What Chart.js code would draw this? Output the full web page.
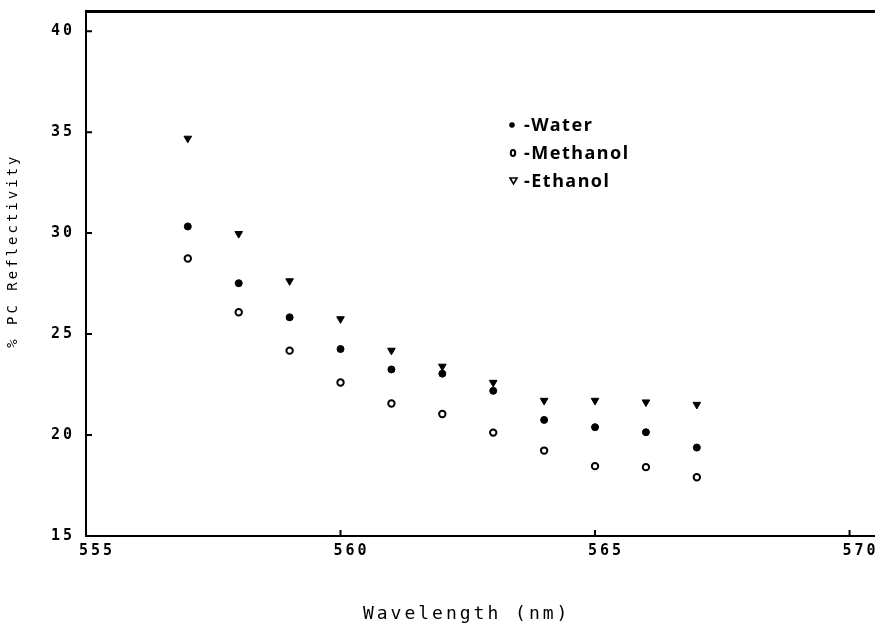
<!DOCTYPE html>
<html>
<head>
<meta charset="utf-8">
<script src="https://cdn.jsdelivr.net/npm/chart.js@4/dist/chart.umd.min.js"></script>
<style>
  body { margin: 0; background: #fff; }
  #wrap { width: 875px; height: 628px; position: relative; }
</style>
</head>
<body>
<div id="wrap"><canvas id="chart"></canvas></div>
<script>
// values
const wavelength = [557, 558, 559, 560, 561, 562, 563, 564, 565, 566, 567];
const water = [30.33, 27.52, 25.83, 24.26, 23.25, 23.04, 22.19, 20.75, 20.39, 20.14, 19.38];
const methanol = [28.74, 26.08, 24.18, 22.6, 21.56, 21.04, 20.12, 19.23, 18.46, 18.41, 17.91];
const ethanol = [34.69, 29.97, 27.63, 25.75, 24.19, 23.4, 22.6, 21.71, 21.71, 21.63, 21.51];
const xTicks = [555, 560, 565, 570];
const yTicks = [15, 20, 25, 30, 35, 40];
const legendNames = ["-Water", "-Methanol", "-Ethanol"];

const pts = (ys) => ys.map((y, i) => ({ x: wavelength[i], y }));
const keepTicks = (list) => (scale) => {
  scale.ticks = list.map((v) => ({ value: v }));
};

// inward tick marks + letter spacing for the plotter-ish look
const frame = {
  id: "frame",
  beforeDraw(chart) {
    chart.ctx.letterSpacing = "3px";
  },
  afterDraw(chart) {
    const ctx = chart.ctx;
    const { x, y } = chart.scales;
    const a = chart.chartArea;
    ctx.save();
    ctx.strokeStyle = "#000";
    ctx.lineWidth = 2;
    ctx.beginPath();
    y.ticks.forEach((t) => {
      const py = y.getPixelForValue(t.value);
      ctx.moveTo(a.left, py);
      ctx.lineTo(a.left + 6, py);
    });
    x.ticks.forEach((t) => {
      const px = x.getPixelForValue(t.value);
      ctx.moveTo(px, a.bottom);
      ctx.lineTo(px, a.bottom - 6);
    });
    ctx.stroke();

    // legend
    ctx.letterSpacing = "1.5px";
    ctx.font = "bold 18px 'Noto Sans'";
    ctx.textBaseline = "middle";
    ctx.fillStyle = "#000";
    const lx = a.left + 426, ly = a.top + 114, gap = 28;
    legendNames.forEach((name, i) => {
      const cy = ly + i * gap;
      ctx.beginPath();
      if (i === 0) {
        ctx.arc(lx, cy, 2.8, 0, Math.PI * 2);
        ctx.fill();
      } else if (i === 1) {
        ctx.lineWidth = 2;
        ctx.ellipse(lx + 1, cy, 2.2, 3, 0, 0, Math.PI * 2);
        ctx.stroke();
      } else {
        ctx.lineWidth = 1.6;
        ctx.moveTo(lx - 2, cy - 3);
        ctx.lineTo(lx + 5, cy - 3);
        ctx.lineTo(lx + 1.5, cy + 3);
        ctx.closePath();
        ctx.stroke();
      }
      ctx.fillText(name, lx + 12, cy + 1);
    });
    ctx.restore();
  },
};

const tickFont = { family: "'DejaVu Sans Mono'", size: 15, weight: "bold" };
const xTitleFont = { family: "'DejaVu Sans Mono'", size: 18, weight: "normal" };
const yTitleFont = { family: "'DejaVu Sans Mono'", size: 14, weight: "normal" };

new Chart(document.getElementById("chart"), {
  type: "scatter",
  data: {
    datasets: [
      { label: "Water", data: pts(water), pointStyle: "circle", pointRadius: 3.5, backgroundColor: "#000", borderColor: "#000", borderWidth: 1 },
      { label: "Methanol", data: pts(methanol), pointStyle: "circle", pointRadius: 3.2, backgroundColor: "#fff", borderColor: "#000", borderWidth: 2 },
      { label: "Ethanol", data: pts(ethanol), pointStyle: "triangle", rotation: 180, pointRadius: 4.4, backgroundColor: "#000", borderColor: "#000", borderWidth: 1 },
    ],
  },
  options: {
    responsive: true,
    maintainAspectRatio: false,
    animation: false,
    layout: { padding: 0, autoPadding: false },
    plugins: { legend: { display: false }, tooltip: { enabled: false } },
    scales: {
      x: {
        type: "linear",
        position: "bottom",
        min: 555,
        max: 570.5,
        afterBuildTicks: keepTicks(xTicks),
        afterFit(s) { s.height = 92; s.paddingLeft = 0; s.paddingRight = 0; },
        grid: { display: false, drawTicks: false },
        border: { display: true, color: "#000", width: 2 },
        ticks: { color: "#000", font: tickFont, padding: 6, labelOffset: 11, maxRotation: 0, callback: (v) => v },
        title: { display: true, text: "Wavelength (nm)  ", color: "#000", font: xTitleFont, padding: { top: 0, bottom: 3 } },
      },
      x2: {
        type: "linear",
        position: "top",
        display: true,
        afterFit(s) { s.height = 11; s.paddingLeft = 0; s.paddingRight = 0; },
        grid: { display: false, drawTicks: false },
        border: { display: true, color: "#000", width: 3 },
        ticks: { display: false },
      },
      y: {
        type: "linear",
        min: 15,
        max: 41,
        afterBuildTicks: keepTicks(yTicks),
        afterFit(s) { s.width = 86; s.paddingTop = 0; s.paddingBottom = 0; },
        grid: { display: false, drawTicks: false },
        border: { display: true, color: "#000", width: 2 },
        ticks: { color: "#000", font: tickFont, padding: 11 },
        title: { display: true, text: "    % PC Reflectivity", color: "#000", font: yTitleFont, padding: { top: 5, bottom: 0 } },
      },
    },
  },
  plugins: [frame],
});
</script>
</body>
</html>
